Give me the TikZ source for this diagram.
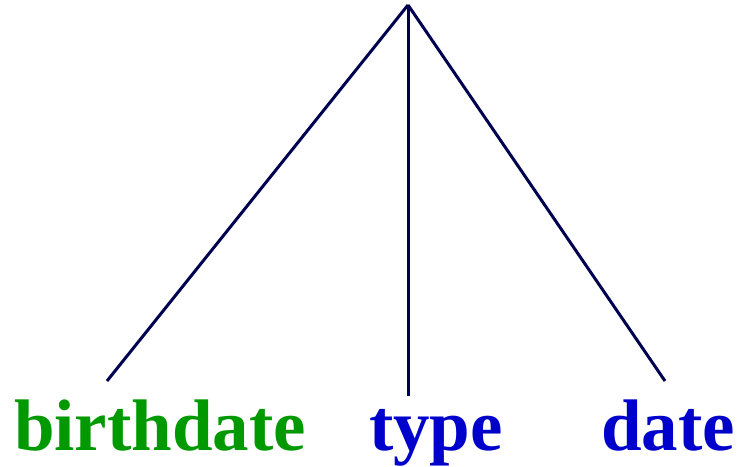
\documentclass[tikz,border=0pt]{standalone}
\usepackage{fontspec}
\setmainfont{Liberation Serif}
\definecolor{leafgreen}{RGB}{0, 153, 0}
\definecolor{leafblue}{RGB}{0, 0, 204}
\definecolor{branch}{RGB}{0, 0, 80}
\tikzset{
  word/.style={anchor=base, inner sep=0pt, font=\fontsize{73}{80}\selectfont\bfseries},
  branchline/.style={draw=branch, line width=3pt}
}

\begin{document}
\begin{tikzpicture}[x=1pt, y=-1pt]
    \useasboundingbox (0,0) rectangle (741,466);

    % root of the tree
    \coordinate (root) at (408,5);

    % leaves
    \node[word, text=leafgreen] (birthdate) at (160,450) {birthdate};
    \node[word, text=leafblue] (type) at (436,450) {type};
    \node[word, text=leafblue] (date) at (668,450) {date};

    % branch ends
    \coordinate (endL) at (107,381);
    \coordinate (endM) at (408,396);
    \coordinate (endR) at (665,381);

    \draw[branchline] (root) -- (endL);
    \draw[branchline] (root) -- (endM);
    \draw[branchline] (root) -- (endR);
\end{tikzpicture}
\end{document}
